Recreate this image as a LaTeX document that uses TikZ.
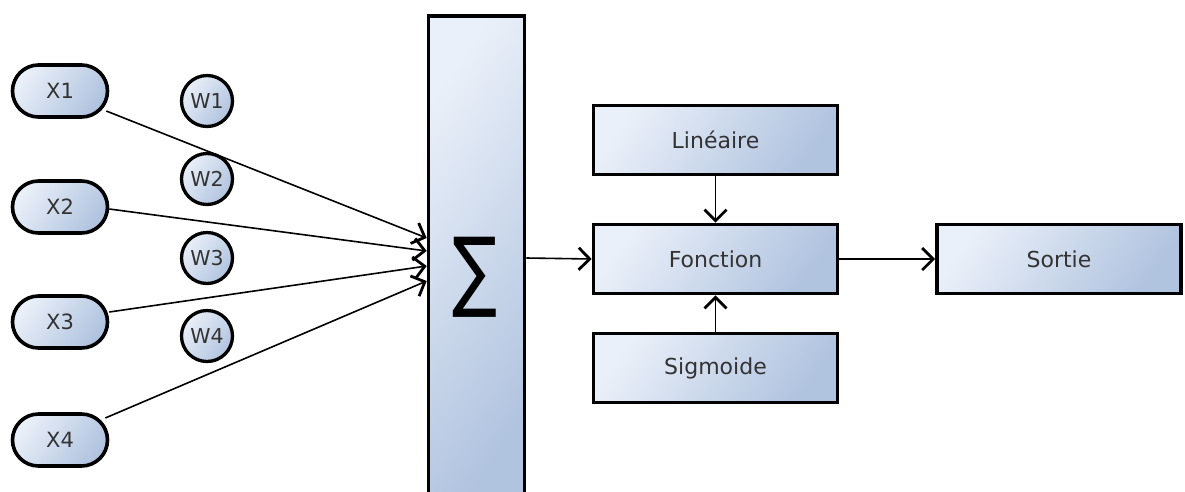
\documentclass[tikz,border=0pt]{standalone}
\usepackage{fontspec}
\setmainfont{DejaVu Sans}
\usetikzlibrary{shapes.misc,arrows.meta}
\definecolor{cLight}{HTML}{EAF0F9}
\definecolor{cDark}{HTML}{B0C3DF}
\definecolor{txt}{HTML}{333333}
\begin{document}
\begin{tikzpicture}[x=1pt,y=-1pt,
 grad/.style={top color=cLight, bottom color=cDark, shading angle=55},
 pill/.style={rounded rectangle, draw, line width=3.6pt, grad, minimum width=95pt, minimum height=52pt, inner sep=0pt, font=\fontsize{21}{21}\selectfont, text=txt},
 wcirc/.style={circle, draw, line width=3.3pt, grad, minimum size=51pt, inner sep=0pt, font=\fontsize{20.5}{20.5}\selectfont, text=txt},
 box/.style={rectangle, draw, line width=3.6pt, grad, minimum width=244pt, minimum height=69pt, inner sep=0pt, font=\fontsize{22}{22}\selectfont, text=txt},
 conn/.style={line width=1.6pt, -{Straight Barb[length=11pt,width=22pt,line width=2.8pt]}},
]
\useasboundingbox (0,0) rectangle (1185,491);

\node[pill] (x1) at (60,91) {X1};
\node[pill] (x2) at (60,207) {X2};
\node[pill] (x3) at (60,322) {X3};
\node[pill] (x4) at (60,440) {X4};

\node[wcirc] (w1) at (207,101) {W1};
\node[wcirc] (w2) at (207,179) {W2};
\node[wcirc] (w3) at (207,258) {W3};
\node[wcirc] (w4) at (207,336) {W4};

\node[rectangle, draw, line width=3.6pt, grad, minimum width=96pt, minimum height=490pt, inner sep=0pt, anchor=north] (sum) at (476.5,14) {};
\node[font=\fontsize{88}{88}\selectfont, xscale=0.76] (sigma) at (475,277) {∑};

\coordinate (in1) at (sum.west |- 0,238);
\coordinate (in2) at (sum.west |- 0,251);
\coordinate (in3) at (sum.west |- 0,266);
\coordinate (in4) at (sum.west |- 0,281);
\coordinate (out) at (sum.east |- 0,258);

\node[box] (lin) at (715.5,140) {Linéaire};
\node[box] (fon) at (715.5,259) {Fonction};
\node[box] (sigm) at (715.5,368) {Sigmoide};
\node[box, minimum width=244pt] (sor) at (1059,259) {Sortie};

\draw[conn] (x1.east) ++(-3,20) -- (in1);
\draw[conn] (x2.east) ++(0,2) -- (in2);
\draw[conn] (x3.east) ++(0,-10) -- (in3);
\draw[conn] (x4.east) ++(-4,-22) -- (in4);

\draw[conn] (out) -- (fon.west);
\draw[conn] (lin) -- (fon);
\draw[conn] (sigm) -- (fon);
\draw[conn] (fon) -- (sor);
\end{tikzpicture}
\end{document}
